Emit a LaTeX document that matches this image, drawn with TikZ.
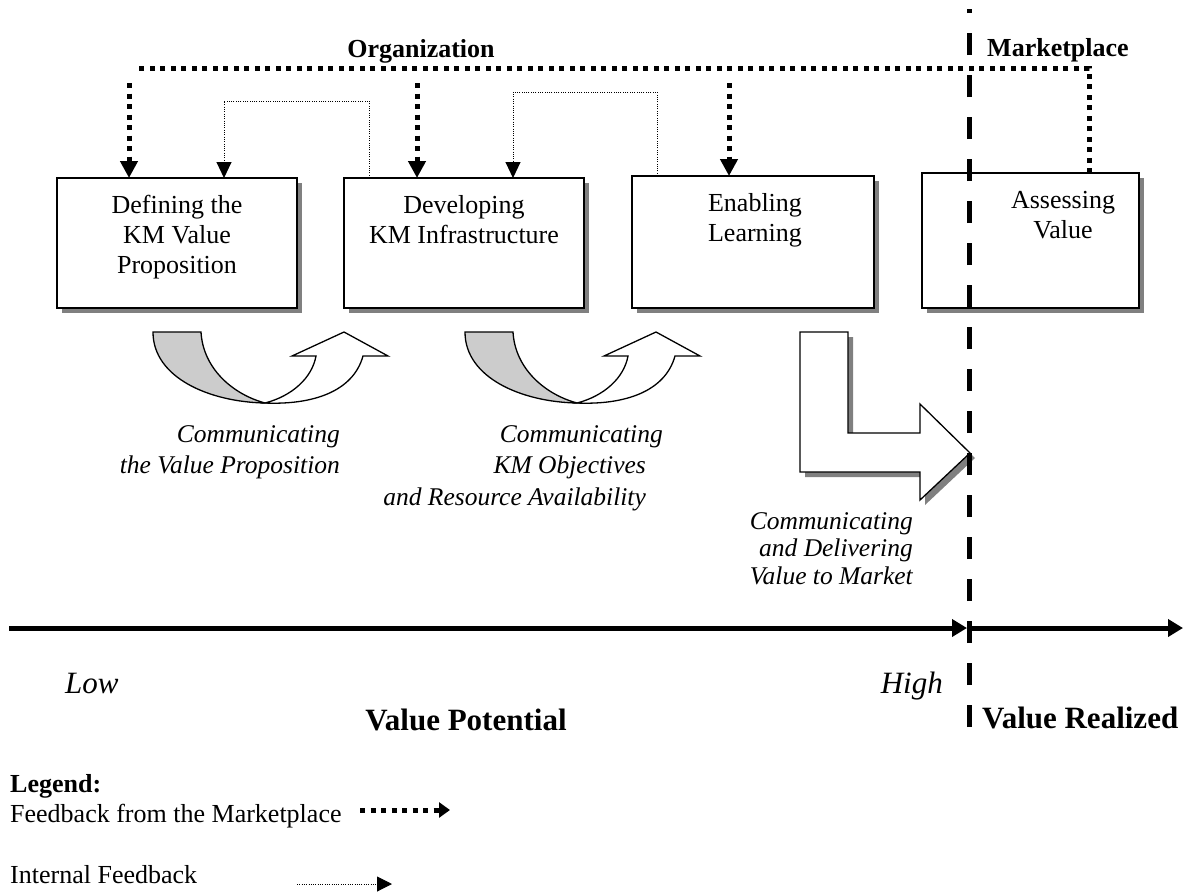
\documentclass[tikz,border=0pt]{standalone}
\usepackage{fontspec}
\setmainfont{Liberation Serif}
\usetikzlibrary{arrows.meta,shadows}
\definecolor{shgray}{HTML}{808080}
\definecolor{bandgray}{HTML}{CCCCCC}
\begin{document}
\begin{tikzpicture}[x=1pt,y=-1pt,
  box/.style={draw, line width=2pt, fill=white, rectangle, inner sep=0pt, outer sep=0pt, anchor=north west,
    drop shadow={shadow xshift=5pt,shadow yshift=-5pt,fill=shgray,opacity=1}},
  boxtext/.style={anchor=base, inner sep=0pt, font=\fontsize{26}{30}\selectfont},
  txt/.style={inner sep=0pt, font=\fontsize{26}{30}\selectfont},
  bigtxt/.style={inner sep=0pt, font=\fontsize{31}{36}\selectfont},
  ittxt/.style={inner sep=0pt, anchor=base east},
  mline/.style={line width=5pt, dash pattern=on 5pt off 5.5pt},
  mfb/.style={mline, -{Triangle[width=17pt,length=17pt]}},
  ifb/.style={line width=1pt, dash pattern=on 1pt off 1.3pt, -{Triangle[width=15pt,length=16pt]}},
  axis/.style={line width=5pt, -{Triangle[width=17pt,length=15pt]}},
  vdash/.style={line width=5pt, dash pattern=on 22pt off 20pt},
  shape line/.style={draw=black, line width=1.3pt, line join=miter},
]
\useasboundingbox (0,0) rectangle (1188,892);

% ---- boxes ----
\node[box, minimum width=240pt, minimum height=130pt] (b1) at (57,178) {};
\node[box, minimum width=240pt, minimum height=130pt] (b2) at (344,178) {};
\node[box, minimum width=242pt, minimum height=132pt] (b3) at (632,176) {};
\node[box, minimum width=217pt, minimum height=135pt] (b4) at (922,173) {};

\node[boxtext] (t1) at (177,213) {\begin{tabular}[t]{@{}c@{}}Defining the\\KM Value\\Proposition\end{tabular}};
\node[boxtext] (t2) at (464,213) {\begin{tabular}[t]{@{}c@{}}Developing\\KM Infrastructure\end{tabular}};
\node[boxtext] (t3) at (755,211) {\begin{tabular}[t]{@{}c@{}}Enabling\\Learning\end{tabular}};
\node[boxtext] (t4) at (1063,208) {\begin{tabular}[t]{@{}c@{}}Assessing\\Value\end{tabular}};

% ---- top labels ----
\node[txt, anchor=base] (org) at (421,57) {\textbf{Organization}};
\node[txt, anchor=base west] (mkt) at (987,56) {\textbf{Marketplace}};

% ---- marketplace feedback ----
\coordinate (cR) at (1089,68);
\coordinate (cL) at (135,68);
\draw[mline] (cR |- b4.north) -- (cR) -- (cL);
\coordinate (m1) at (129,83);
\coordinate (m2) at (417,83);
\coordinate (m3) at (729,83);
\draw[mfb] (m1) -- (m1 |- b1.north);
\draw[mfb] (m2) -- (m2 |- b2.north);
\draw[mfb] (m3) -- (m3 |- b3.north);

% ---- internal feedback ----
\coordinate (i1a) at (369,101);
\coordinate (i1b) at (224,101);
\draw[ifb] (i1a |- b2.north) -- (i1a) -- (i1b) -- (i1b |- b1.north);
\coordinate (i2a) at (657,92);
\coordinate (i2b) at (513,92);
\draw[ifb] (i2a |- b3.north) -- (i2a) -- (i2b) -- (i2b |- b2.north);

% ---- curved arrows ----
\foreach \dx in {0,312} {
\begin{scope}[xshift=\dx pt]
  \path[shape line, fill=bandgray] (153,332) -- (201,332)
    .. controls (203,368) and (232,394) .. (265,403)
    .. controls (210,402) and (153,378) .. (153,332) -- cycle;
  \path[shape line, fill=white] (265,403)
    .. controls (292,396) and (312,378) .. (316,356)
    -- (292,356) -- (344,332) -- (388,356) -- (363,356)
    .. controls (353,392) and (312,405) .. (265,403) -- cycle;
\end{scope}
}

% ---- L arrow ----
\begin{scope}[shift={(5,5)}]
  \fill[shgray] (800,332) -- (848,332) -- (848,433) -- (920,433) -- (920,404) -- (970,453)
    -- (920,500) -- (920,472) -- (800,472) -- cycle;
\end{scope}
\path[shape line, fill=white] (800,332) -- (848,332) -- (848,433) -- (920,433) -- (920,404) -- (970,453)
    -- (920,500) -- (920,472) -- (800,472) -- cycle;

% ---- italic labels ----
\node[ittxt, font=\fontsize{25.5}{31}\selectfont\itshape] (c1) at (340,442)
  {\begin{tabular}[t]{@{}r@{}}Communicating\\the Value Proposition\end{tabular}};
\node[ittxt, font=\fontsize{25.5}{31.5}\selectfont\itshape] (c2) at (663,442)
  {\begin{tabular}[t]{@{}r@{}}Communicating\\KM Objectives\hspace*{17pt}\\and Resource Availability\hspace*{17pt}\end{tabular}};
\node[ittxt, font=\fontsize{25.5}{27.5}\selectfont\itshape] (c3) at (913,529)
  {\begin{tabular}[t]{@{}r@{}}Communicating\\and Delivering\\Value to Market\end{tabular}};

% ---- axis ----
\coordinate (a0) at (9,628);
\coordinate (a1) at (967,628);
\coordinate (a2) at (969,628);
\coordinate (a3) at (1183,628);
\draw[axis] (a0) -- (a1);
\draw[axis] (a2) -- (a3);

% ---- vertical boundary ----
\coordinate (d0) at (969,727);
\coordinate (d1) at (969,9);
\draw[vdash] (d0) -- (d1);

% ---- axis labels ----
\node[bigtxt, anchor=base west] (low) at (65,693) {\itshape Low};
\node[bigtxt, anchor=base east] (high) at (943,693) {\itshape High};
\node[bigtxt, anchor=base] (vp) at (466,730) {\textbf{Value Potential}};
\node[bigtxt, anchor=base west] (vr) at (982,728) {\textbf{Value Realized}};

% ---- legend ----
\node[txt, anchor=base west] (lg) at (10,792) {\textbf{Legend:}};
\node[txt, anchor=base west] (lg1) at (10,822) {Feedback from the Marketplace};
\node[txt, anchor=base west] (lg2) at (10,883) {Internal Feedback};
\coordinate (l1a) at (360,810);
\coordinate (l1b) at (450,810);
\draw[line width=5pt, dash pattern=on 5pt off 5.5pt, -{Triangle[width=15pt,length=11pt]}] (l1a) -- (l1b);
\coordinate (l2a) at (297,884);
\coordinate (l2b) at (392,884);
\draw[line width=1pt, dash pattern=on 1pt off 1.3pt, -{Triangle[width=15pt,length=15pt]}] (l2a) -- (l2b);
\end{tikzpicture}
\end{document}
